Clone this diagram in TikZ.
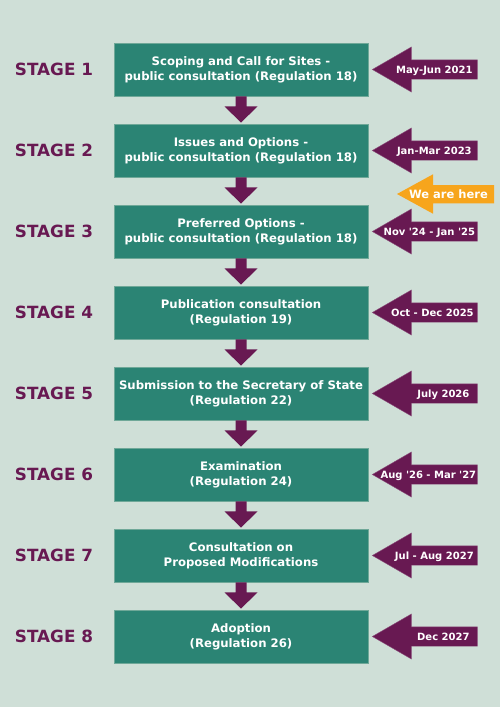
\documentclass[tikz,border=0pt]{standalone}
\usepackage{fontspec}
\setmainfont{DejaVu Sans}[Ligatures=TeXOff]
\usetikzlibrary{calc}
\definecolor{bgc}{HTML}{CFDFD7}
\definecolor{tealc}{HTML}{2B8474}
\definecolor{tealedge}{HTML}{6FA898}
\definecolor{purc}{HTML}{681952}
\definecolor{puredge}{HTML}{8A4E7A}
\definecolor{orangec}{HTML}{F7A51C}
\newcommand\downarr[2]{%
  \fill[purc] ($(#1.south)+(-5.5,0)$) -- ($(#1.south)+(-5.5,10)$) -- ($(#1.south)+(-16.5,10)$)
    -- ($(#2.north)+(0,-1)$) -- ($(#1.south)+(16.5,10)$) -- ($(#1.south)+(5.5,10)$)
    -- ($(#1.south)+(5.5,0)$) -- cycle;}
\newcommand\datearr[3]{%
  \begin{scope}[shift={($(#1.east)+(4,0)$)}]
    \filldraw[fill=purc, draw=puredge, line width=0.4pt] (0,0) coordinate (#1tip) -- (39,-22.5) -- (39,-9.7) -- (105,-9.7)
      -- (105,9.7) -- (39,9.7) -- (39,22.5) -- cycle;
  \end{scope}
  \node[datetext] (#1date) at ($(#1.east)+(#2,0)$) {#3};}
\begin{document}
\begin{tikzpicture}[x=1pt,y=-1pt,
  stagebox/.style={fill=tealc, draw=tealedge, line width=0.7pt, minimum width=254pt,
    minimum height=53pt, inner sep=0pt, align=center, text=white,
    font=\fontsize{11.7}{14.7}\selectfont\bfseries},
  stagelabel/.style={text=purc, font=\fontsize{16.8}{18}\selectfont\bfseries,
    inner sep=0pt, text height=12pt, text depth=0pt},
  datetext/.style={text=white, font=\fontsize{10}{12}\selectfont\bfseries,
    inner sep=0pt, text height=7.3pt, text depth=0pt},
  heretext/.style={text=white, font=\fontsize{11.5}{13}\selectfont\bfseries,
    inner sep=0pt, text height=8.4pt, text depth=0pt}]
\fill[bgc] (0,0) rectangle (500,707);
\useasboundingbox (0,0) rectangle (500,707);

\node[stagebox] (b1) at (241,69.5) {Scoping and Call for Sites -\\public consultation (Regulation 18)};
\node[stagebox] (b2) at (241,150.5) {Issues and Options -\\public consultation (Regulation 18)};
\node[stagebox] (b3) at (241,231.5) {Preferred Options -\\public consultation (Regulation 18)};
\node[stagebox] (b4) at (241,312.5) {Publication consultation\\(Regulation 19)};
\node[stagebox] (b5) at (241,393.5) {Submission to the Secretary of State\\(Regulation 22)};
\node[stagebox] (b6) at (241,474.5) {Examination\\(Regulation 24)};
\node[stagebox] (b7) at (241,555.5) {Consultation on\\Proposed Modifications};
\node[stagebox] (b8) at (241,636.5) {Adoption\\(Regulation 26)};

\node[stagelabel] (s1) at (54,69.5) {STAGE 1};
\node[stagelabel] (s2) at (54,150.5) {STAGE 2};
\node[stagelabel] (s3) at (54,231.5) {STAGE 3};
\node[stagelabel] (s4) at (54,312.5) {STAGE 4};
\node[stagelabel] (s5) at (54,393.5) {STAGE 5};
\node[stagelabel] (s6) at (54,474.5) {STAGE 6};
\node[stagelabel] (s7) at (54,555.5) {STAGE 7};
\node[stagelabel] (s8) at (54,636.5) {STAGE 8};

\downarr{b1}{b2}
\downarr{b2}{b3}
\downarr{b3}{b4}
\downarr{b4}{b5}
\downarr{b5}{b6}
\downarr{b6}{b7}
\downarr{b7}{b8}

\datearr{b1}{66}{May-Jun 2021}
\datearr{b2}{66}{Jan-Mar 2023}
\datearr{b3}{61}{Nov '24 - Jan '25}
\datearr{b4}{64}{Oct - Dec 2025}
\datearr{b5}{75}{July 2026}
\datearr{b6}{60}{Aug '26 - Mar '27}
\datearr{b7}{66}{Jul - Aug 2027}
\datearr{b8}{75}{Dec 2027}

\fill[orangec] (397,194) coordinate (heretip) -- (433,174.3) -- (433,185) -- (494,185)
  -- (494,203.3) -- (433,203.3) -- (433,213.7) -- cycle;
\node[heretext] (here) at (448.5,194) {We are here};
\end{tikzpicture}
\end{document}
